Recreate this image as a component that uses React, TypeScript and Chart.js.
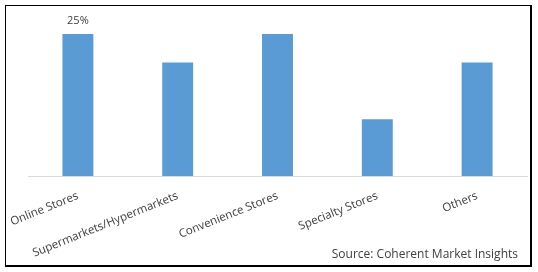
import React, { useEffect, useRef } from "react";
import { Chart, registerables } from "chart.js";

Chart.register(...registerables);

const categories = [
  "Online Stores",
  "Supermarkets/Hypermarkets",
  "Convenience Stores",
  "Specialty Stores",
  "Others",
];
const shares = [25, 20, 25, 10, 20];
const dataLabels = ["25%", "", "", "", ""];
const sourceText = "Source: Coherent Market Insights";

const FONT = "'Open Sans', 'Noto Sans', sans-serif";

const barLabelPlugin = {
  id: "barLabel",
  afterDatasetsDraw(chart: any) {
    const ctx = chart.ctx;
    const meta = chart.getDatasetMeta(0);
    ctx.save();
    ctx.font = `11px ${FONT}`;
    ctx.fillStyle = "#404040";
    ctx.textAlign = "center";
    ctx.textBaseline = "middle";
    meta.data.forEach((bar: any, i: number) => {
      const t = dataLabels[i];
      if (t) ctx.fillText(t, bar.x, bar.y - 13);
    });
    ctx.restore();
  },
};

export default function App() {
  const ref = useRef<HTMLCanvasElement | null>(null);

  useEffect(() => {
    document.body.style.margin = "0";
    const chart = new Chart(ref.current as HTMLCanvasElement, {
      type: "bar",
      data: {
        labels: categories,
        datasets: [
          {
            data: shares,
            backgroundColor: "#5B9BD5",
            barPercentage: 0.62,
            categoryPercentage: 0.5,
          },
        ],
      },
      options: {
        animation: false,
        responsive: false,
        layout: { padding: { left: 28, right: 11, top: 5.6, bottom: 0 } },
        plugins: {
          legend: { display: false },
          tooltip: { enabled: false },
        },
        scales: {
          y: { display: false, min: 0, max: 30 },
          x: {
            grid: { display: false, drawTicks: false },
            border: { display: true, color: "#D9D9D9", width: 1 },
            ticks: {
              minRotation: 22,
              maxRotation: 22,
              autoSkip: false,
              padding: 13,
              color: "#404040",
              font: { family: FONT, size: 11.5 },
            },
            afterFit: (scale: any) => {
              scale.height = 96;
              scale.paddingLeft = 0;
              scale.paddingRight = 0;
            },
          },
        },
      },
      plugins: [barLabelPlugin],
    });
    return () => chart.destroy();
  }, []);

  return (
    <div style={{ position: "relative", width: 538, height: 272, background: "#fff" }}>
      <div
        style={{
          position: "absolute",
          left: 5,
          top: 5,
          width: 524,
          height: 259,
          borderLeft: "1px solid #000",
          borderTop: "1px solid #000",
          borderRight: "2px solid #000",
          borderBottom: "2px solid #000",
        }}
      />
      <canvas
        ref={ref}
        width={538}
        height={272}
        style={{ position: "absolute", left: 0, top: 0 }}
      />
      <div
        style={{
          position: "absolute",
          right: 20,
          top: 246,
          fontFamily: FONT,
          fontSize: 12,
          color: "#404040",
          whiteSpace: "nowrap",
          lineHeight: "16px",
        }}
      >
        {sourceText}
      </div>
    </div>
  );
}
